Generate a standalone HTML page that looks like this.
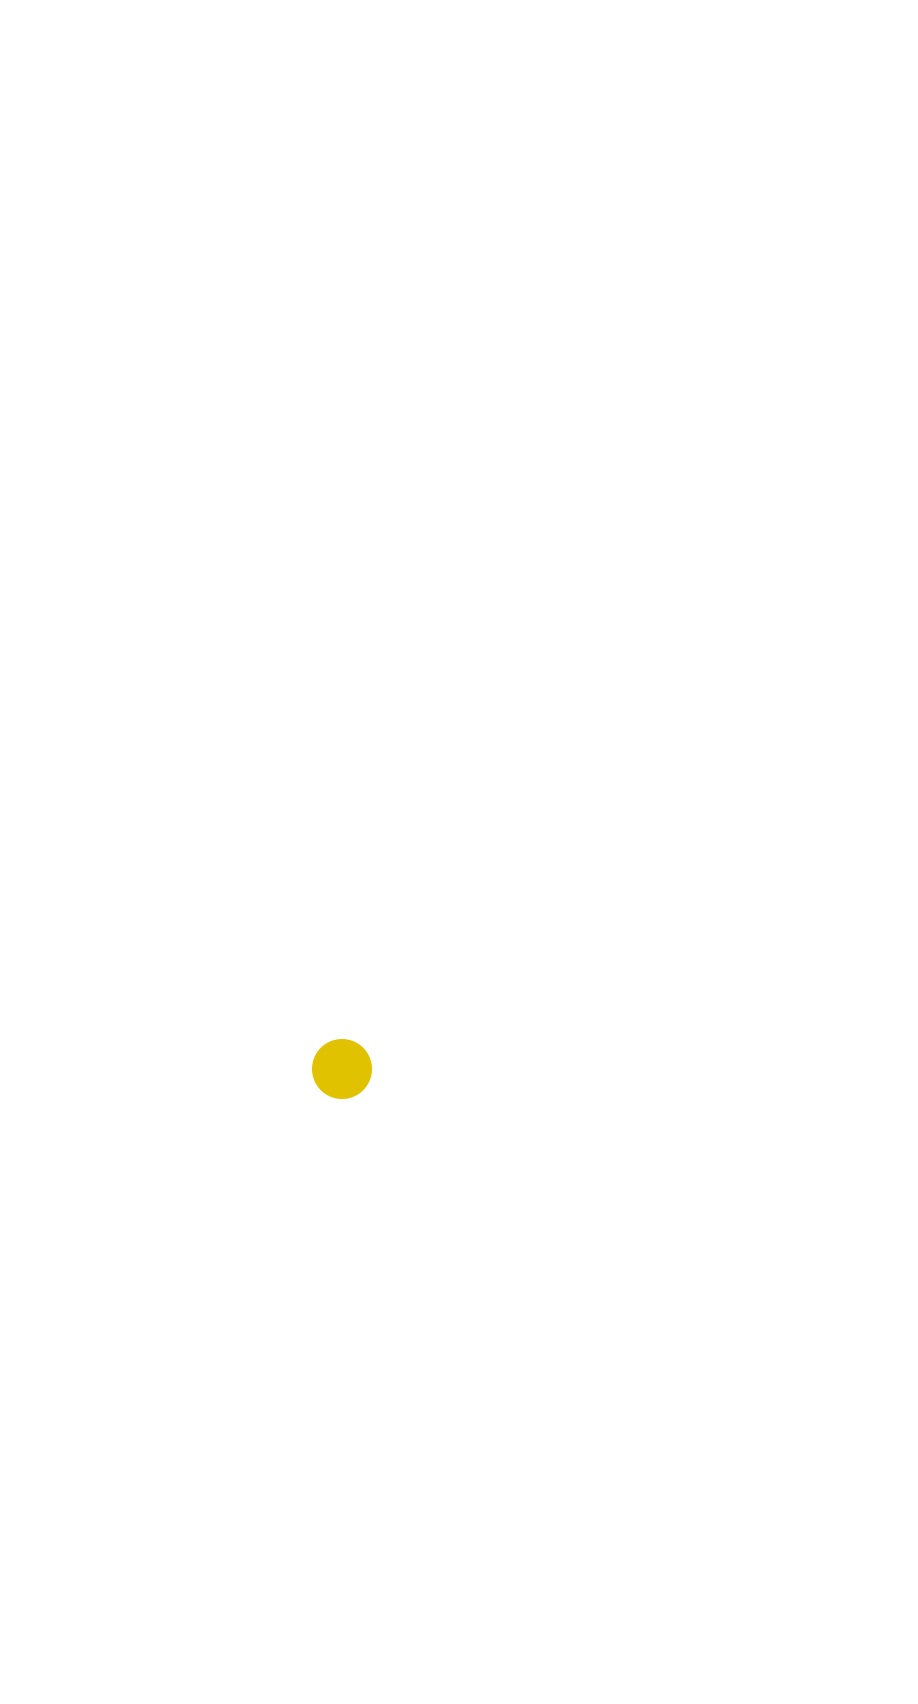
<!DOCTYPE html>
<html><head><meta charset="utf-8"><style>
html,body{margin:0;padding:0;background:#fff;}
body{width:918px;height:1704px;position:relative;overflow:hidden;}
.c{position:absolute;left:312px;top:1039px;width:60px;height:60px;border-radius:50%;background:#e0c200;}
</style></head><body><div class="c"></div></body></html>
